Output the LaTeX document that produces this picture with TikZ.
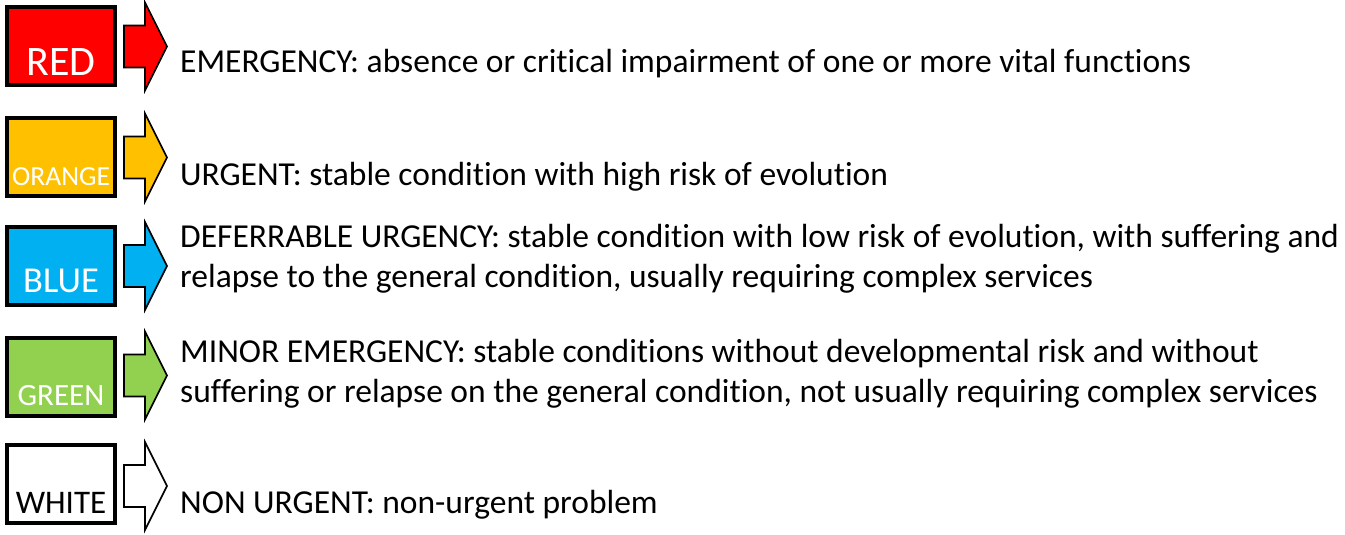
\documentclass[tikz,border=0pt]{standalone}
\usepackage{fontspec}
\setmainfont{Carlito}[Ligatures=NoCommon]
\definecolor{codered}{HTML}{FF0000}
\definecolor{codeorange}{HTML}{FFC000}
\definecolor{codeblue}{HTML}{00B0F0}
\definecolor{codegreen}{HTML}{92D050}
\tikzset{
  codebox/.style={draw=black, line width=4pt, minimum width=108pt, minimum height=78pt, inner sep=0pt},
  codearrow/.style={draw=black, line width=1.6pt, line join=miter},
  codename/.style={anchor=base, inner sep=0pt},
  codetext/.style={anchor=base west, inner sep=0pt, font=\fontsize{33.5}{40}\selectfont, align=left},
}
% block arrow right of a box: #1 = centre y, #2 = fill
\newcommand{\levelarrow}[2]{%
  \draw [codearrow, fill=#2] (124,{#1-21}) -- (145,{#1-21}) -- (145,{#1-44}) -- (167,#1)
    -- (145,{#1+44}) -- (145,{#1+21}) -- (124,{#1+21}) -- cycle;}
\begin{document}
\begin{tikzpicture}[x=1pt,y=-1pt]
  \useasboundingbox (0,0) rectangle (1345,535);
  % Level: red
  \node [codebox, fill=codered] (red) at (61,46) {};
  \node [codename, text=white, font=\fontsize{42}{50}\selectfont] (redname) at (61,76) {RED};
  \levelarrow{46.5}{codered}
  \node [codetext] (redtext) at (180,73) {EMERGENCY: absence or critical impairment of one or more vital functions};
  % Level: orange
  \node [codebox, fill=codeorange] (orange) at (61,156.5) {};
  \node [codename, text=white, font=\fontsize{27.6}{33}\selectfont] (orangename) at (61,185) {ORANGE};
  \levelarrow{157.5}{codeorange}
  \node [codetext] (orangetext) at (180,185) {URGENT: stable condition with high risk of evolution};
  % Level: blue
  \node [codebox, fill=codeblue] (blue) at (61,265.5) {};
  \node [codename, text=white, font=\fontsize{36.5}{44}\selectfont] (bluename) at (61,292) {BLUE};
  \levelarrow{266}{codeblue}
  \node [codetext] (bluetext) at (180,287) {DEFERRABLE URGENCY: stable condition with low risk of evolution, with suffering and\\relapse to the general condition, usually requiring complex services};
  % Level: green
  \node [codebox, fill=codegreen] (green) at (61,377) {};
  \node [codename, text=white, font=\fontsize{31}{37}\selectfont] (greenname) at (61,405) {GREEN};
  \levelarrow{375.5}{codegreen}
  \node [codetext] (greentext) at (180,402) {MINOR EMERGENCY: stable conditions without developmental risk and without\\suffering or relapse on the general condition, not usually requiring complex services};
  % Level: white
  \node [codebox, fill=white] (white) at (61,484) {};
  \node [codename, text=black, font=\fontsize{33}{40}\selectfont] (whitename) at (61,513) {WHITE};
  \levelarrow{486}{white}
  \node [codetext] (whitetext) at (180,513) {NON URGENT: non-urgent problem};
\end{tikzpicture}
\end{document}
